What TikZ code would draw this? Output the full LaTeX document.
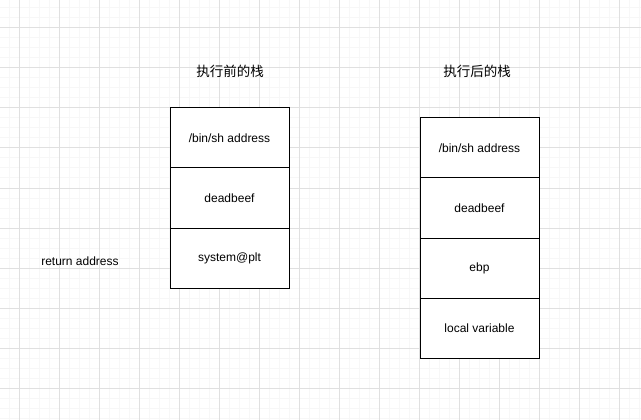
\documentclass[tikz,border=0pt]{standalone}
\usepackage{fontspec}
\setmainfont{Liberation Sans}
\newfontfamily\cjk{Noto Sans CJK SC}
\usetikzlibrary{positioning}

\begin{document}
\begin{tikzpicture}[x=1pt,y=-1pt]
\tikzset{
  stackcell/.style={draw,fill=white,line width=1pt,minimum width=119pt,minimum height=60pt,inner sep=0pt,outer sep=0pt,font=\fontsize{12}{14}\selectfont},
  caption/.style={inner sep=0pt,font=\fontsize{12}{14}\selectfont},
  titlecap/.style={inner sep=0pt,font=\cjk\fontsize{13.5}{15}\selectfont},
  minorgrid/.style={draw=black!3,line width=1pt},
  majorgrid/.style={draw=black!12,line width=1pt}
}
\useasboundingbox (0,0) rectangle (641,420);
% background grid
\foreach \x in {9,19,...,639} \draw[minorgrid] (\x,0) -- (\x,420);
\foreach \y in {8,18,...,418} \draw[minorgrid] (0,\y) -- (641,\y);
\foreach \x in {19,59,...,619} \draw[majorgrid] (\x,0) -- (\x,420);
\foreach \y in {28,68,...,388} \draw[majorgrid] (0,\y) -- (641,\y);
% titles
\node[titlecap] (before) at (230,71) {执行前的栈};
\node[titlecap] (after) at (477,71) {执行后的栈};
\node[caption] (ret) at (80,261) {return address};
% stack before
\node[stackcell] (b_sh) at (229.5,138) {/bin/sh address};
\node[stackcell,below=0pt of b_sh] (b_dead) {deadbeef};
\node[stackcell,below=0pt of b_dead] (b_sys) {system@plt};
% stack after
\node[stackcell] (a_sh) at (479.5,148) {/bin/sh address};
\node[stackcell,below=0pt of a_sh] (a_dead) {deadbeef};
\node[stackcell,below=0pt of a_dead] (a_ebp) {ebp};
\node[stackcell,below=0pt of a_ebp] (a_local) {local variable};
\end{tikzpicture}
\end{document}
